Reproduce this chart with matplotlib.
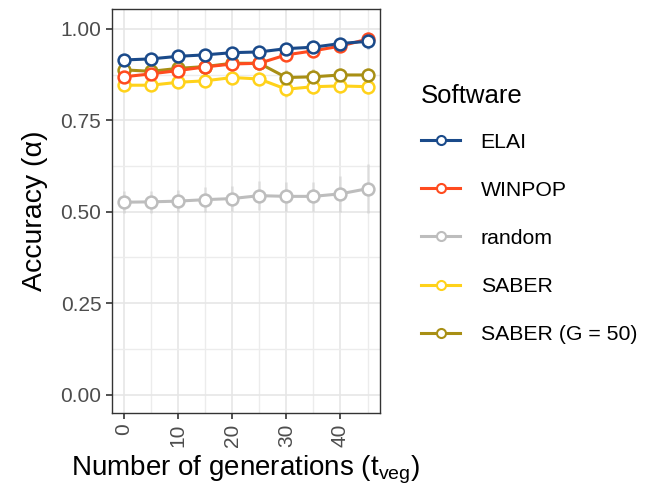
import matplotlib
matplotlib.use("Agg")
import matplotlib.pyplot as plt
from matplotlib.lines import Line2D
from matplotlib.ticker import MultipleLocator

plt.rcParams['font.family'] = ['Liberation Sans', 'DejaVu Sans']
plt.rcParams['mathtext.fontset'] = 'custom'
plt.rcParams['mathtext.rm'] = 'Liberation Sans'
plt.rcParams['mathtext.it'] = 'Liberation Sans:italic'

generations = [0, 5, 10, 15, 20, 25, 30, 35, 40, 45]
series_names = ["ELAI", "WINPOP", "random", "SABER", "SABER (G = 50)"]
elai = [0.915, 0.918, 0.925, 0.929, 0.935, 0.937, 0.946, 0.950, 0.960, 0.966]
winpop = [0.869, 0.877, 0.886, 0.896, 0.904, 0.906, 0.929, 0.940, 0.953, 0.972]
random_ = [0.526, 0.527, 0.529, 0.533, 0.536, 0.544, 0.542, 0.542, 0.549, 0.563]
saber = [0.846, 0.846, 0.854, 0.858, 0.867, 0.863, 0.835, 0.842, 0.844, 0.842]
saber_g50 = [0.888, 0.884, 0.892, 0.897, 0.906, 0.906, 0.867, 0.869, 0.874, 0.874]
elai_err = [0.015, 0.015, 0.015, 0.015, 0.015, 0.015, 0.015, 0.015, 0.015, 0.02]
winpop_err = [0.015, 0.015, 0.015, 0.015, 0.015, 0.015, 0.015, 0.015, 0.015, 0.02]
random_err = [0.03, 0.03, 0.03, 0.035, 0.035, 0.04, 0.04, 0.04, 0.05, 0.067]
saber_err = [0.015, 0.015, 0.015, 0.015, 0.015, 0.015, 0.02, 0.02, 0.02, 0.02]
saber_g50_err = [0.015, 0.015, 0.015, 0.015, 0.015, 0.015, 0.02, 0.02, 0.02, 0.02]

colors = {"ELAI": "#1a4a8a", "WINPOP": "#ff4b1f", "random": "#bdbdbd",
          "SABER": "#ffd21a", "SABER (G = 50)": "#a88f14"}
data = {"ELAI": (elai, elai_err), "WINPOP": (winpop, winpop_err),
        "random": (random_, random_err), "SABER": (saber, saber_err),
        "SABER (G = 50)": (saber_g50, saber_g50_err)}

fig = plt.figure(figsize=(6.57, 4.88), dpi=100)
ax = fig.add_axes([0.170, 0.154, 0.408, 0.828])

draw_order = ["random", "SABER", "SABER (G = 50)", "WINPOP", "ELAI"]
for name in draw_order:
    vals, errs = data[name]
    c = colors[name]
    ax.errorbar(generations, vals, yerr=errs, fmt='none', ecolor=c, alpha=0.35,
                elinewidth=2.0, capsize=0, zorder=2)
    ax.plot(generations, vals, color=c, lw=2.2, zorder=3)
    ax.plot(generations, vals, linestyle='none', marker='o', ms=8.5,
            mfc='white', mec=c, mew=1.8, zorder=4)

ax.set_xlim(-2.25, 47.25)
ax.set_ylim(-0.05, 1.055)
ax.xaxis.set_major_locator(MultipleLocator(10))
ax.xaxis.set_minor_locator(MultipleLocator(5))
ax.yaxis.set_minor_locator(MultipleLocator(0.125))
ax.set_yticks([0, 0.25, 0.5, 0.75, 1.0])
ax.set_yticklabels(["0.00", "0.25", "0.50", "0.75", "1.00"])
ax.grid(which='major', color='#e6e6e6', lw=1.2, zorder=0)
ax.grid(which='minor', color='#ececec', lw=1.0, zorder=0)
ax.set_axisbelow(True)
for s in ax.spines.values():
    s.set_color('#333333')
    s.set_linewidth(1.0)
ax.tick_params(which='major', length=4.5, width=1.2, color='#333333', pad=3,
               labelsize=15, labelcolor='#4d4d4d')
ax.tick_params(which='minor', length=0)
plt.setp(ax.get_xticklabels(), rotation=90, va='top', ha='center')
ax.set_xlabel(r"Number of generations (t$_{\mathrm{veg}}$)", fontsize=20, color='black', labelpad=5)
ax.set_ylabel("Accuracy (α)", fontsize=20.5, color='black', labelpad=9)

handles = [Line2D([0], [0], color=colors[n], lw=2.2, marker='o', ms=6.5,
                  mfc='white', mec=colors[n], mew=1.5) for n in series_names]
leg = fig.legend(handles, series_names, title="Software", loc='upper left',
                 bbox_to_anchor=(0.628, 0.846), frameon=False, fontsize=15.3,
                 title_fontsize=18.5, labelspacing=1.37, handlelength=1.85,
                 handletextpad=0.95, borderaxespad=0)
leg._legend_box.align = "left"
leg._legend_box.sep = 18

fig.savefig("out.png", dpi=100)
